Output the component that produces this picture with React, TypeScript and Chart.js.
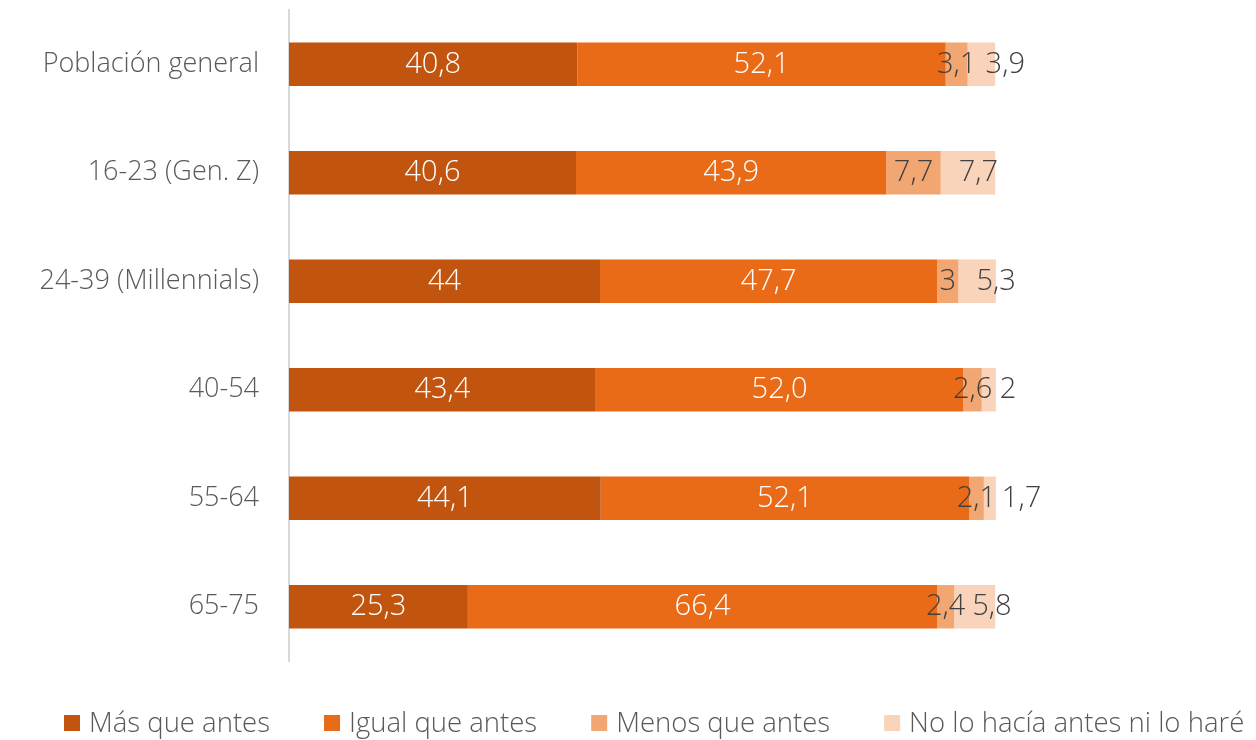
import React, { useEffect, useRef } from "react";
import { Chart, registerables } from "chart.js";

Chart.register(...registerables);

const categories = [
  "Población general",
  "16-23 (Gen. Z)",
  "24-39 (Millennials)",
  "40-54",
  "55-64",
  "65-75",
];

const seriesNames = [
  "Más que antes",
  "Igual que antes",
  "Menos que antes",
  "No lo hacía antes ni lo haré",
];

// values as printed in the chart (Spanish decimal comma)
const masQueAntes = ["40,8", "40,6", "44", "43,4", "44,1", "25,3"];
const igualQueAntes = ["52,1", "43,9", "47,7", "52,0", "52,1", "66,4"];
const menosQueAntes = ["3,1", "7,7", "3", "2,6", "2,1", "2,4"];
const noLoHacia = ["3,9", "7,7", "5,3", "2", "1,7", "5,8"];

const seriesLabels = [masQueAntes, igualQueAntes, menosQueAntes, noLoHacia];
const seriesColors = ["#C1540F", "#E96B17", "#F2A672", "#F9D4BB"];
const labelColors = ["#FFFFFF", "#FFFFFF", "#404040", "#404040"];

const AXIS_MAX = 136.8;
const FONT = "'Open Sans', Lato, sans-serif";
const WEIGHT = "300";

const LEGEND_LEFT = 64;
const LEGEND_BOX = 16;
const LEGEND_TEXT_GAP = 9;
const LEGEND_ITEM_GAP = 54;
const LEGEND_FROM_BOTTOM = 17;
const LEGEND_FONT_SIZE = 27.5;

const toNum = (s: string) => parseFloat(s.replace(",", "."));

const dataLabelPlugin = {
  id: "segLabels",
  afterDatasetsDraw(chart: any) {
    const ctx = chart.ctx;
    ctx.save();
    ctx.font = `${WEIGHT} 29px ${FONT}`;
    ctx.textBaseline = "middle";
    chart.data.datasets.forEach((ds: any, di: number) => {
      const meta = chart.getDatasetMeta(di);
      meta.data.forEach((el: any, i: number) => {
        const txt = seriesLabels[di][i];
        const start = Math.min(el.x, el.base);
        const end = Math.max(el.x, el.base);
        ctx.fillStyle = labelColors[di];
        if (di === 3) {
          ctx.textAlign = "left";
          ctx.fillText(txt, start + 18, el.y);
        } else {
          ctx.textAlign = "center";
          ctx.fillText(txt, (start + end) / 2, el.y);
        }
      });
    });
    ctx.restore();
  },
};

const legendPlugin = {
  id: "bottomLegend",
  afterDraw(chart: any) {
    const ctx = chart.ctx;
    ctx.save();
    ctx.font = `${WEIGHT} ${LEGEND_FONT_SIZE}px ${FONT}`;
    ctx.textBaseline = "middle";
    ctx.textAlign = "left";
    const cy = chart.height - LEGEND_FROM_BOTTOM;
    let x = LEGEND_LEFT;
    chart.data.datasets.forEach((ds: any) => {
      ctx.fillStyle = ds.backgroundColor;
      ctx.fillRect(x, cy - LEGEND_BOX / 2, LEGEND_BOX, LEGEND_BOX);
      x += LEGEND_BOX + LEGEND_TEXT_GAP;
      ctx.fillStyle = "#595959";
      ctx.fillText(ds.label, x, cy + 1);
      x += ctx.measureText(ds.label).width + LEGEND_ITEM_GAP;
    });
    ctx.restore();
  },
};

export default function App() {
  const ref = useRef<HTMLCanvasElement | null>(null);

  useEffect(() => {
    document.body.style.margin = "0";
    if (!ref.current) return;
    const chart = new Chart(ref.current, {
      type: "bar",
      data: {
        labels: categories,
        datasets: seriesNames.map((name, i) => ({
          label: name,
          data: seriesLabels[i].map(toNum),
          backgroundColor: seriesColors[i],
          borderWidth: 0,
          barPercentage: 0.4,
          categoryPercentage: 1,
        })),
      },
      options: {
        indexAxis: "y",
        animation: false,
        responsive: false,
        maintainAspectRatio: false,
        layout: { padding: { left: 15, right: 0, top: 10, bottom: 79 } },
        scales: {
          x: {
            stacked: true,
            display: false,
            min: 0,
            max: AXIS_MAX,
          },
          y: {
            stacked: true,
            grid: { display: false, drawTicks: false },
            border: { display: true, color: "#D9D9D9", width: 2 },
            ticks: {
              color: "#595959",
              padding: 30,
              font: { family: FONT, size: 27, weight: WEIGHT as any },
            },
            afterFit(scale: any) {
              scale.width = 274;
              scale.paddingTop = 0;
              scale.paddingBottom = 0;
            },
          },
        },
        plugins: {
          legend: { display: false },
          tooltip: { enabled: false },
        },
      },
      plugins: [dataLabelPlugin, legendPlugin],
    });
    return () => chart.destroy();
  }, []);

  return (
    <div style={{ width: 1256, height: 740 }}>
      <canvas ref={ref} width={1256} height={740} />
    </div>
  );
}
